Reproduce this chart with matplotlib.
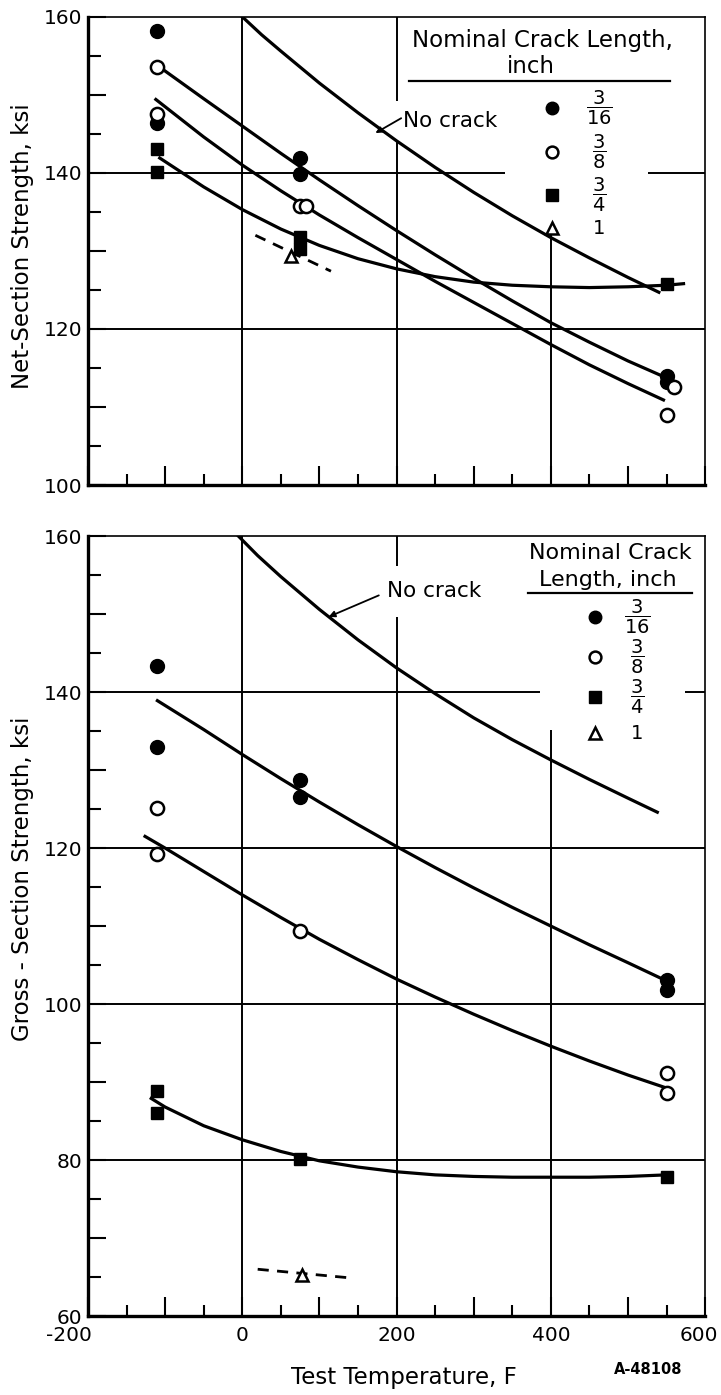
import matplotlib
matplotlib.use('Agg')
import matplotlib.pyplot as plt
from matplotlib.ticker import MultipleLocator, FuncFormatter
from matplotlib.patches import Rectangle
from matplotlib.transforms import ScaledTranslation

plt.rcParams['font.family'] = ['DejaVu Sans']
plt.rcParams['axes.unicode_minus'] = False

# ---- data: net-section strength (top panel) ----
net_c316_x = [-110, -110, 75, 75, 550, 550]
net_c316_y = [158.2, 146.4, 141.9, 139.8, 114.0, 113.2]
net_c38_x = [-110, -110, 75, 82, 560, 550]
net_c38_y = [153.5, 147.6, 135.7, 135.7, 112.5, 109.0]
net_c34_x = [-110, -110, 75, 75, 550]
net_c34_y = [143.1, 140.1, 131.8, 130.3, 125.8]
net_c1_x = [63]
net_c1_y = [129.4]

net_nocrack_x = [0, 25, 50, 100, 150, 200, 250, 300, 350, 400, 450, 500, 540]
net_nocrack_y = [160, 157.7, 155.6, 151.5, 147.7, 144.1, 140.7, 137.5, 134.5, 131.7, 129.1, 126.6, 124.7]
net_fit316_x = [-105, -50, 0, 50, 100, 150, 200, 250, 300, 350, 400, 450, 500, 546]
net_fit316_y = [153.4, 149.5, 146.0, 142.5, 139.1, 135.8, 132.6, 129.5, 126.5, 123.6, 120.8, 118.3, 115.9, 113.9]
net_fit38_x = [-112, -50, 0, 50, 100, 150, 200, 250, 300, 350, 400, 450, 500, 546]
net_fit38_y = [149.4, 144.6, 141.0, 137.7, 134.6, 131.7, 128.9, 126.1, 123.4, 120.7, 118.0, 115.4, 113.0, 110.9]
net_fit34_x = [-107, -50, 0, 50, 100, 150, 200, 250, 300, 350, 400, 450, 500, 550, 572]
net_fit34_y = [141.9, 138.2, 135.3, 132.8, 130.7, 129.0, 127.7, 126.7, 126.0, 125.6, 125.4, 125.3, 125.4, 125.6, 125.8]
net_fit1_x = [17, 115]
net_fit1_y = [132.0, 127.4]

# ---- data: gross-section strength (bottom panel) ----
gross_c316_x = [-110, -110, 75, 75, 550, 550]
gross_c316_y = [143.3, 132.9, 128.7, 126.6, 103.1, 101.8]
gross_c38_x = [-110, -110, 75, 550, 550]
gross_c38_y = [125.2, 119.2, 109.4, 91.2, 88.6]
gross_c34_x = [-110, -110, 75, 550]
gross_c34_y = [88.9, 86.0, 80.1, 77.8]
gross_c1_x = [77]
gross_c1_y = [65.3]

gross_nocrack_x = [-5, 20, 50, 100, 150, 200, 250, 300, 350, 400, 450, 500, 538]
gross_nocrack_y = [160, 157.5, 154.8, 150.6, 146.7, 143.1, 139.8, 136.7, 133.9, 131.3, 128.8, 126.4, 124.6]
gross_fit316_x = [-110, -50, 0, 50, 100, 150, 200, 250, 300, 350, 400, 450, 500, 545]
gross_fit316_y = [138.9, 135.2, 132.0, 128.9, 125.9, 123.0, 120.2, 117.5, 114.9, 112.4, 110.0, 107.6, 105.3, 103.2]
gross_fit38_x = [-126, -100, -50, 0, 50, 100, 150, 200, 250, 300, 350, 400, 450, 500, 548]
gross_fit38_y = [121.5, 120.0, 117.0, 114.0, 111.1, 108.3, 105.7, 103.2, 100.9, 98.7, 96.6, 94.6, 92.7, 90.9, 89.3]
gross_fit34_x = [-118, -100, -50, 0, 50, 100, 150, 200, 250, 300, 350, 400, 450, 500, 550]
gross_fit34_y = [87.9, 86.8, 84.4, 82.6, 81.1, 79.9, 79.1, 78.5, 78.1, 77.9, 77.8, 77.8, 77.8, 77.9, 78.1]
gross_fit1_x = [20, 139]
gross_fit1_y = [66.0, 64.9]

legend_labels = [r'$\dfrac{3}{16}$', r'$\dfrac{3}{8}$', r'$\dfrac{3}{4}$', '1']

LW = 2.3
MS = 10
FS = 14.5      # tick labels
FS_LAB = 16.5  # axis titles
FS_TXT = 15.5  # annotations / legend text


def style_axes(ax, ymin, show_xlabels):
    ax.set_xlim(-200, 600)
    ax.set_ylim(ymin, 160)
    for side in ['left', 'bottom']:
        ax.spines[side].set_linewidth(2.4)
    for side in ['top', 'right']:
        ax.spines[side].set_linewidth(1.2)
    ax.xaxis.set_major_locator(MultipleLocator(100))
    ax.xaxis.set_minor_locator(MultipleLocator(50))
    ax.yaxis.set_major_locator(MultipleLocator(10))
    ax.yaxis.set_minor_locator(MultipleLocator(5))
    ax.xaxis.set_major_formatter(FuncFormatter(lambda v, p: f'{v:.0f}' if v % 200 == 0 else ''))
    ax.yaxis.set_major_formatter(FuncFormatter(lambda v, p: f'{v:.0f}' if v % 20 == 0 else ''))
    ax.tick_params(which='both', direction='in', width=1.5, labelsize=FS,
                   top=False, right=False, labelbottom=show_xlabels)
    ax.tick_params(axis='y', which='major', length=13, pad=4)
    ax.tick_params(axis='y', which='minor', length=9)
    ax.tick_params(axis='x', which='major', length=14, pad=7)
    ax.tick_params(axis='x', which='minor', length=8)
    # grid lines
    for gx in [0, 200, 400]:
        ax.axvline(gx, color='k', lw=1.4, zorder=1)
    for gy in range(ymin + 20, 160, 20):
        ax.axhline(gy, color='k', lw=1.4, zorder=1)


def draw_points(ax, xs_list, ys_list):
    c316, c38, c34, c1 = zip(xs_list, ys_list)
    ax.plot(*c316, 'o', color='k', ms=MS, ls='none', zorder=5)
    ax.plot(*c38, 'o', mfc='white', mec='k', mew=1.8, ms=MS - 0.5, ls='none', zorder=5)
    ax.plot(*c34, 's', color='k', ms=MS - 1, ls='none', zorder=5)
    ax.plot(*c1, '^', mfc='white', mec='k', mew=1.8, ms=MS - 1, ls='none', zorder=5)


def draw_legend(ax, title_lines, title_pos, title_fs, line_y, line_x, mark_x, lab_x, ys):
    for txt, (tx, ty) in zip(title_lines, title_pos):
        ax.text(tx, ty, txt, fontsize=title_fs, ha='center', va='center', zorder=6)
    ax.plot(line_x, [line_y, line_y], color='k', lw=1.6, zorder=6)
    ax.plot(mark_x, ys[0], 'o', color='k', ms=MS - 1, zorder=6)
    ax.plot(mark_x, ys[1], 'o', mfc='white', mec='k', mew=1.8, ms=MS - 1.5, zorder=6)
    ax.plot(mark_x, ys[2], 's', color='k', ms=MS - 2, zorder=6)
    ax.plot(mark_x, ys[3], '^', mfc='white', mec='k', mew=1.8, ms=MS - 2, zorder=6)
    for lab, ly in zip(legend_labels, ys):
        ax.text(lab_x, ly, lab, fontsize=14, ha='center', va='center', zorder=6)


fig = plt.figure(figsize=(7.21, 13.95), dpi=100)
ax1 = fig.add_axes([0.122, 0.6523, 0.856, 0.3357])
ax2 = fig.add_axes([0.122, 0.0566, 0.856, 0.5591])

# ---------------- top panel ----------------
style_axes(ax1, 100, False)
ax1.add_patch(Rectangle((341, 132.3), 185, 27.7, fc='white', ec='none', zorder=1.5))
ax1.plot(net_nocrack_x, net_nocrack_y, color='k', lw=LW, zorder=3)
ax1.plot(net_fit316_x, net_fit316_y, color='k', lw=LW, zorder=3)
ax1.plot(net_fit38_x, net_fit38_y, color='k', lw=LW, zorder=3)
ax1.plot(net_fit34_x, net_fit34_y, color='k', lw=LW, zorder=3)
ax1.plot(net_fit1_x, net_fit1_y, color='k', lw=2.0, ls=(0, (4, 3)), zorder=3)
draw_points(ax1, [net_c316_x, net_c38_x, net_c34_x, net_c1_x],
            [net_c316_y, net_c38_y, net_c34_y, net_c1_y])
ax1.text(209, 146.6, 'No crack', fontsize=FS_TXT, ha='left', va='center', zorder=2,
         bbox=dict(boxstyle='square,pad=0.5', fc='white', ec='none'))
ax1.annotate('', xy=(172.6, 145.1), xytext=(206, 147.0), zorder=4,
             arrowprops=dict(arrowstyle='-|>', color='k', lw=1.3, mutation_scale=9,
                             shrinkA=0, shrinkB=0))
draw_legend(ax1, ['Nominal Crack Length,', 'inch'], [(388.7, 157.0), (374.5, 153.6)], FS_LAB,
            151.8, [216.6, 554.4], 401.7, 462.5, [148.3, 142.7, 137.2, 132.9])
ax1.set_ylabel('Net-Section Strength, ksi', fontsize=FS_LAB)
ax1.yaxis.set_label_coords(-0.088, 0.51)

# ---------------- bottom panel ----------------
style_axes(ax2, 60, True)
ax2.add_patch(Rectangle((386, 135.1), 188, 24.9, fc='white', ec='none', zorder=1.5))
ax2.plot(gross_nocrack_x, gross_nocrack_y, color='k', lw=LW, zorder=3)
ax2.plot(gross_fit316_x, gross_fit316_y, color='k', lw=LW, zorder=3)
ax2.plot(gross_fit38_x, gross_fit38_y, color='k', lw=LW, zorder=3)
ax2.plot(gross_fit34_x, gross_fit34_y, color='k', lw=LW, zorder=3)
ax2.plot(gross_fit1_x, gross_fit1_y, color='k', lw=2.0, ls=(0, (4, 3)), zorder=3)
draw_points(ax2, [gross_c316_x, gross_c38_x, gross_c34_x, gross_c1_x],
            [gross_c316_y, gross_c38_y, gross_c34_y, gross_c1_y])
ax2.text(188, 152.9, 'No crack', fontsize=FS_TXT, ha='left', va='center', zorder=2,
         bbox=dict(boxstyle='square,pad=0.7', fc='white', ec='none'))
ax2.annotate('', xy=(112, 149.65), xytext=(177, 152.4), zorder=4,
             arrowprops=dict(arrowstyle='-|>', color='k', lw=1.3, mutation_scale=9,
                             shrinkA=0, shrinkB=0))
draw_legend(ax2, ['Nominal Crack', 'Length, inch'], [(476.8, 157.8), (474.2, 154.4)], FS_TXT + 0.5,
            152.7, [370.6, 583.4], 457.3, 511.7, [149.6, 144.5, 139.4, 134.7])
ax2.set_ylabel('Gross - Section Strength, ksi', fontsize=FS_LAB)
ax2.yaxis.set_label_coords(-0.088, 0.56)
ax2.set_xlabel('Test Temperature, F', fontsize=FS_LAB, va='top')
ax2.xaxis.set_label_coords(0.512, -0.064)

fig.text(0.899, 1 - 1370 / 1395, 'A-48108', fontsize=10.5, fontweight='bold',
         ha='center', va='center')

# end labels of the temperature axis sit inside the figure edges, as in the original
fig.canvas.draw()
for lab in ax2.get_xticklabels():
    if lab.get_text() == '-200':
        lab.set_horizontalalignment('right')
        lab.set_transform(lab.get_transform() + ScaledTranslation(4 / 100, 0, fig.dpi_scale_trans))
    elif lab.get_text() == '600':
        lab.set_transform(lab.get_transform() + ScaledTranslation(-6 / 100, 0, fig.dpi_scale_trans))

fig.savefig('out.png', dpi=100)
